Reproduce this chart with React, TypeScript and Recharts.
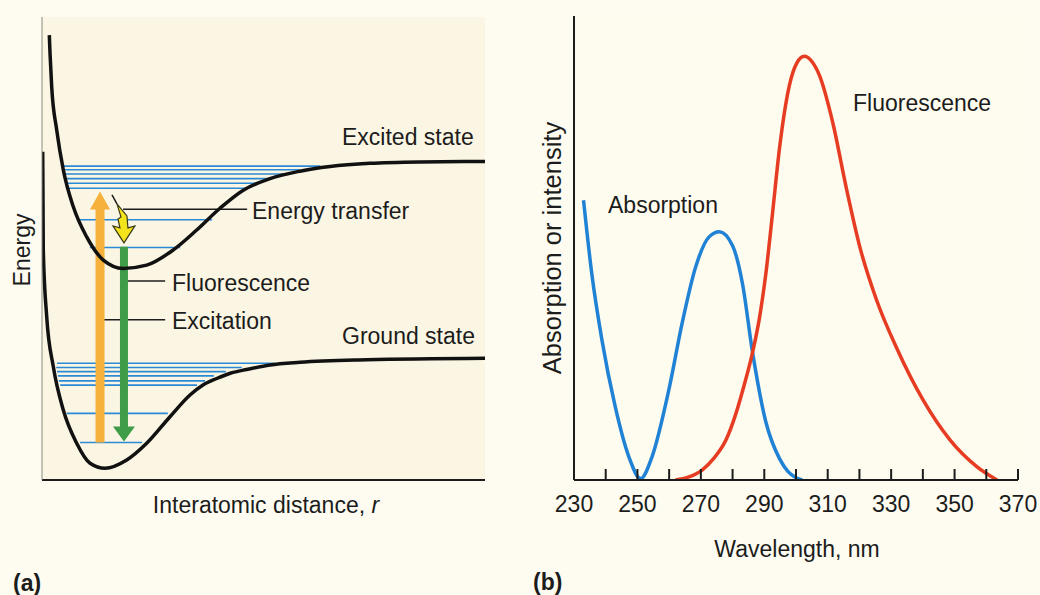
import { LineChart, Line, XAxis, YAxis, ReferenceLine, CartesianGrid } from 'recharts'

// (a) potential energy curves, arbitrary units (0-100 on both axes)
const excitedR = [1.65, 1.81, 2.19, 3.32, 4.81, 7.07, 10.09, 13.84, 18.35, 23.63, 29.64, 34.92, 40.18, 45.44, 51.47, 58.24, 65.01, 74.04, 85.33, 100]
const excitedE = [96.1, 92.2, 84.9, 75.6, 67.0, 59.0, 52.5, 47.5, 45.7, 46.4, 49.7, 54.0, 58.7, 62.6, 65.1, 66.7, 67.7, 68.4, 68.7, 68.8]

const groundR = [0.16, 0.29, 1.06, 2.55, 4.81, 7.83, 10.84, 14.22, 19.12, 23.63, 28.89, 33.41, 36.34, 39.44, 42.66, 46.21, 51.47, 58.24, 73.3, 100]
const groundE = [70.9, 49.7, 35.3, 24.5, 15.1, 7.93, 3.61, 2.53, 4.32, 7.93, 13.67, 18.36, 20.52, 21.92, 23.11, 23.87, 24.84, 25.42, 25.96, 26.29]

// vibrational levels: energy, left r, right r
const excitedLevels = [
  [67.8, 4.5, 62.8], [67.0, 4.5, 58.2], [66.1, 4.7, 54.9], [65.1, 5.0, 51.9],
  [64.1, 5.2, 48.8], [63.0, 5.4, 46.3], [56.2, 7.9, 38.4], [50.2, 10.8, 31.2],
]
const groundLevels = [
  [25.2, 3.4, 52.6], [24.3, 3.2, 45.1], [23.4, 3.4, 41.5], [22.5, 3.6, 38.8],
  [21.4, 3.8, 36.8], [20.5, 4.1, 35.0], [14.4, 5.6, 28.4], [8.1, 8.6, 22.6],
]

// transitions: r, from energy, to energy
const excitation = [13.1, 8.1, 62.3]
const fluorescenceDrop = [18.5, 50.4, 8.3]
const energyTransfer = [[15.8, 61.6], [18.5, 51.2]]

// leader lines for the labels: energy, from r, to r
const leaders = [[58.5, 18.3, 46.3], [43.0, 19.2, 27.8], [34.6, 13.5, 27.8]]

// (b) spectra
const absorptionNm = [233.0, 235.6, 238.8, 243.0, 247.3, 251.0, 254.6, 259.9, 264.1, 268.4, 272.6, 275.8, 280.0, 283.1, 286.3, 290.5, 294.8, 297.5, 300.0, 302.0]
const absorptionVal = [60.3, 44.5, 30.2, 15.8, 5.0, 0.3, 5.0, 19.4, 33.8, 46.0, 52.4, 53.5, 50.5, 42.4, 27.5, 12.5, 4.6, 1.8, 0.5, 0]

const fluorescenceNm = [262.0, 266.0, 270.5, 274.0, 277.9, 281.0, 283.6, 286.3, 288.5, 290.5, 292.6, 294.8, 297.9, 300.2, 302.6, 305.0, 307.4, 311.6, 315.9, 320.1, 325.4, 331.7, 340.1, 348.6, 357.0, 363.4]
const fluorescenceVal = [0, 0.6, 2.2, 4.6, 8.6, 14.2, 20.3, 27.5, 35.0, 44.5, 57.5, 71.5, 85.0, 89.8, 91.3, 90.2, 87.2, 77.0, 62.8, 50.3, 38.8, 28.5, 17.2, 8.6, 2.9, 0]

const wavelengthTicks = [230, 240, 250, 260, 270, 280, 290, 300, 310, 320, 330, 340, 350, 360, 370]

const FONT = '"Liberation Sans", Arial, Helvetica, sans-serif'
const INK = '#1c1c1c'
const LEVEL_BLUE = '#2b8ad6'

const toPoints = (xs: number[], ys: number[]) => xs.map((x, i) => ({ x, y: ys[i] }))

function BlockArrow(props: any) {
  const { x1, y1, x2, y2, fill, shaft, head, headLen } = props
  const dx = x2 - x1
  const dy = y2 - y1
  const len = Math.hypot(dx, dy) || 1
  const ux = dx / len
  const uy = dy / len
  const px = -uy
  const py = ux
  const bx = x2 - ux * headLen
  const by = y2 - uy * headLen
  const pts = [
    [x1 + (px * shaft) / 2, y1 + (py * shaft) / 2],
    [bx + (px * shaft) / 2, by + (py * shaft) / 2],
    [bx + (px * head) / 2, by + (py * head) / 2],
    [x2, y2],
    [bx - (px * head) / 2, by - (py * head) / 2],
    [bx - (px * shaft) / 2, by - (py * shaft) / 2],
    [x1 - (px * shaft) / 2, y1 - (py * shaft) / 2],
  ]
  return <polygon points={pts.map((p) => p.join(',')).join(' ')} fill={fill} />
}

// zig-zag bolt ending in an arrowhead at (x2, y2)
function Bolt(props: any) {
  const { x1, y1, x2, y2 } = props
  const rel = [
    [0, 0], [11, -17], [4, -15], [3, -27], [-7, -39], [-3, -26], [-6, -24], [-4, -15], [-11, -17],
  ]
  const pts = rel.map(([a, b]) => `${x2 + a},${y2 + b}`).join(' ')
  return (
    <g>
      <line x1={x1} y1={y1} x2={x2 - 7} y2={y2 - 39} stroke={INK} strokeWidth={1.5} />
      <polygon points={pts} fill="#f4e41c" stroke="#3a3a1a" strokeWidth={1.2} />
    </g>
  )
}

function WavelengthTick(props: any) {
  const { x, y, payload } = props
  const v = payload.value
  return (
    <g>
      {v !== 230 && <line x1={x} y1={y} x2={x} y2={y - 11} stroke={INK} strokeWidth={2} />}
      {(v - 230) % 20 === 0 && (
        <text x={x} y={y + 24} textAnchor="middle" dominantBaseline="central" fontSize={23} fontFamily={FONT} fill={INK}>
          {v}
        </text>
      )}
    </g>
  )
}

function PanelA() {
  return (
    <LineChart width={500} height={595} margin={{ top: 17, right: 15, bottom: 114, left: 41 }}>
      <CartesianGrid horizontal={false} vertical={false} fill="#fbf6e3" />
      <XAxis type="number" dataKey="x" domain={[0, 100]} allowDataOverflow height={1} tick={false} tickLine={false} axisLine={{ stroke: INK, strokeWidth: 2 }} />
      <YAxis type="number" domain={[0, 100]} allowDataOverflow width={1} tick={false} tickLine={false} axisLine={{ stroke: '#8a8a80', strokeWidth: 1 }} />
      {[...excitedLevels, ...groundLevels].map(([e, a, b], i) => (
        <ReferenceLine key={'lv' + i} segment={[{ x: a, y: e }, { x: b, y: e }]} stroke={LEVEL_BLUE} strokeWidth={1.6} />
      ))}
      {leaders.map(([e, a, b], i) => (
        <ReferenceLine key={'ld' + i} segment={[{ x: a, y: e }, { x: b, y: e }]} stroke={INK} strokeWidth={1.5} />
      ))}
      <ReferenceLine
        segment={[{ x: excitation[0], y: excitation[1] }, { x: excitation[0], y: excitation[2] }]}
        shape={(p: any) => <BlockArrow {...p} fill="#f6b13c" shaft={9} head={20} headLen={18} />}
      />
      <ReferenceLine
        segment={[{ x: fluorescenceDrop[0], y: fluorescenceDrop[1] }, { x: fluorescenceDrop[0], y: fluorescenceDrop[2] }]}
        shape={(p: any) => <BlockArrow {...p} fill="#3f9c48" shaft={8} head={22} headLen={15} />}
      />
      <ReferenceLine
        segment={[{ x: energyTransfer[0][0], y: energyTransfer[0][1] }, { x: energyTransfer[1][0], y: energyTransfer[1][1] }]}
        shape={(p: any) => <Bolt {...p} />}
      />
      <Line data={toPoints(excitedR, excitedE)} dataKey="y" type="monotone" stroke="#111" strokeWidth={3.5} dot={false} isAnimationActive={false} />
      <Line data={toPoints(groundR, groundE)} dataKey="y" type="monotone" stroke="#111" strokeWidth={3.5} dot={false} isAnimationActive={false} />
    </LineChart>
  )
}

function PanelB() {
  return (
    <LineChart width={520} height={595} margin={{ top: 16, right: 22, bottom: 114, left: 53 }}>
      <CartesianGrid horizontal={false} vertical={false} fill="#fefbef" />
      <XAxis
        type="number"
        dataKey="x"
        domain={[230, 370]}
        ticks={wavelengthTicks}
        interval={0}
        allowDataOverflow
        height={1}
        tickSize={0}
        tickMargin={0}
        tickLine={false}
        tick={<WavelengthTick />}
        axisLine={{ stroke: INK, strokeWidth: 2 }}
      />
      <YAxis type="number" domain={[0, 100]} allowDataOverflow width={1} tick={false} tickLine={false} axisLine={{ stroke: INK, strokeWidth: 2 }} />
      <Line data={toPoints(absorptionNm, absorptionVal)} dataKey="y" type="monotone" stroke="#1f82d4" strokeWidth={3.5} dot={false} isAnimationActive={false} />
      <Line data={toPoints(fluorescenceNm, fluorescenceVal)} dataKey="y" type="monotone" stroke="#e63c22" strokeWidth={3.5} dot={false} isAnimationActive={false} />
    </LineChart>
  )
}

export default function App() {
  const t = { fontFamily: FONT, fontSize: 23, fill: INK }
  return (
    <div style={{ position: 'absolute', left: 0, top: 0, width: 1040, height: 595, background: '#fefcf1', overflow: 'hidden' }}>
      <div style={{ position: 'absolute', left: 0, top: 0 }}>
        <PanelA />
      </div>
      <div style={{ position: 'absolute', left: 520, top: 0 }}>
        <PanelB />
      </div>
      <svg width={1040} height={595} style={{ position: 'absolute', left: 0, top: 0, pointerEvents: 'none' }}>
        <g {...t} dominantBaseline="central">
          <text x={342} y={137}>Excited state</text>
          <text x={252} y={211}>Energy transfer</text>
          <text x={172} y={283}>Fluorescence</text>
          <text x={172} y={321}>Excitation</text>
          <text x={342} y={336}>Ground state</text>
          <text x={266} y={505} textAnchor="middle">
            Interatomic distance, <tspan fontStyle="italic">r</tspan>
          </text>
          <text x={22} y={250} textAnchor="middle" transform="rotate(-90 22 250)">Energy</text>
          <text x={13} y={583} fontWeight="bold">(a)</text>

          <text x={608} y={205}>Absorption</text>
          <text x={853} y={103}>Fluorescence</text>
          <text x={552} y={248} textAnchor="middle" fontSize={25.5} transform="rotate(-90 552 248)">Absorption or intensity</text>
          <text x={797} y={549} textAnchor="middle">Wavelength, nm</text>
          <text x={533} y={582} fontWeight="bold">(b)</text>
        </g>
      </svg>
    </div>
  )
}
